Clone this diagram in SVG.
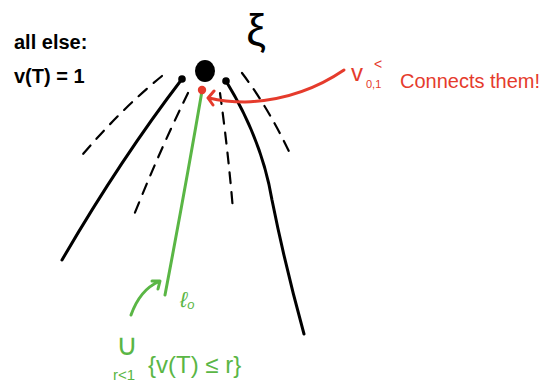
<svg xmlns="http://www.w3.org/2000/svg" width="545" height="389" viewBox="0 0 545 389">
<style>
.blk{fill:none;stroke:#000;stroke-width:3;stroke-linecap:round}
.dash{fill:none;stroke:#000;stroke-width:2.2;stroke-linecap:round;stroke-dasharray:11 9}
.grn{fill:none;stroke:#5ab645;stroke-width:3;stroke-linecap:round;stroke-linejoin:round}
.red{fill:none;stroke:#e53b2c;stroke-width:3;stroke-linecap:round;stroke-linejoin:round}
.tb{font-family:"Liberation Sans",sans-serif;fill:#000}
.tr{font-family:"Liberation Sans",sans-serif;fill:#e53b2c}
.tg{font-family:"Liberation Sans",sans-serif;fill:#5ab645}
</style>
<rect width="545" height="389" fill="#fff"/>
<g id="connectors">
  <path class="blk" d="M182,79 Q120,160 62,260"/>
  <path class="blk" d="M226,81 Q262,140 272,200 Q285,265 304,334"/>
  <path class="dash" d="M162,76 Q120,110 78,160"/>
  <path class="dash" d="M188,93 Q160,150 134,215"/>
  <path class="dash" d="M220,93 Q228,150 233,210"/>
  <path class="dash" d="M242,73 Q270,110 292,158"/>
  <path class="grn" d="M202,91 Q185,190 165,295"/>
  <path class="grn" d="M131,315 Q140,290 158,282 M152,281 L160,281 L158,289"/>
  <path class="red" d="M344,70 Q300,100 245,102 Q225,102 209,98 M214,91 L208,98 L213,105"/>
</g>
<g id="node-top"><ellipse cx="205" cy="71" rx="10" ry="11" fill="#000"/></g>
<g id="node-left"><circle cx="182" cy="79" r="3.8" fill="#000"/></g>
<g id="node-right"><circle cx="226" cy="81" r="3.8" fill="#000"/></g>
<g id="node-red"><circle cx="202" cy="90" r="4.2" fill="#e53b2c"/></g>
<text class="tb" x="256" y="45" font-size="44" text-anchor="middle">ξ</text>
<text class="tb" x="14" y="49" font-size="20" font-weight="bold">all else:</text>
<text class="tb" x="14" y="83" font-size="20" font-weight="bold">v(T) = 1</text>
<text class="tr" x="351" y="81" font-size="24">v</text>
<text class="tr" x="374" y="69" font-size="14">&lt;</text>
<text class="tr" x="366" y="88" font-size="11">0,1</text>
<text class="tr" x="400" y="88" font-size="20">Connects them!</text>
<text class="tg" x="180" y="307" font-size="22" font-style="italic">ℓ<tspan font-size="13" dy="2">o</tspan></text>
<text class="tg" x="127" y="355" font-size="30" text-anchor="middle">∪</text>
<text class="tg" x="124" y="380" font-size="15" text-anchor="middle">r&lt;1</text>
<text class="tg" x="148" y="373" font-size="24">{v(T) ≤ r}</text>
</svg>
